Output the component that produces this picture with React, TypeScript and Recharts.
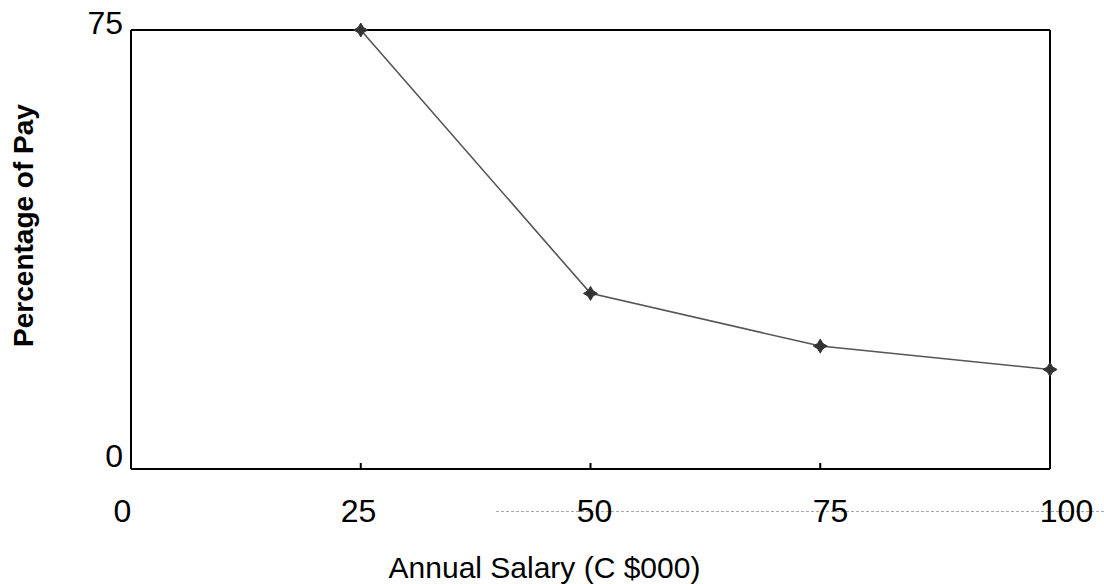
import React from "react";
import { LineChart, Line, XAxis, YAxis, ReferenceLine } from "recharts";

// values
const salary = [25, 50, 75, 100];
const payPct = [75, 30, 21, 17];
const xTicks = [0, 25, 50, 75, 100];
const yTicks = [0, 75];

const data = salary.map((s, i) => ({ salary: s, pct: payPct[i] }));

const FONT = "'Liberation Sans', Arial, sans-serif";

// x labels in the scan are spaced a bit wider than the plot ticks
function XTick(props: any) {
  const { x, y, payload } = props;
  const v = payload.value;
  const inner = v > 0 && v < 100;
  const lx = 122.5 + (x - 131) * (236 / 229.75);
  return (
    <g>
      {inner && <line x1={x} x2={x} y1={y} y2={y - 6} stroke="#000" strokeWidth={2} />}
      <text x={lx} y={y + 53} textAnchor="middle" fontFamily={FONT} fontSize={32} fill="#000">
        {v}
      </text>
    </g>
  );
}

function YTick(props: any) {
  const { x, y, payload } = props;
  const v = payload.value;
  return (
    <text x={x - 8} y={y + (v === 0 ? -2 : 4)} textAnchor="end" fontFamily={FONT} fontSize={32} fill="#000">
      {v}
    </text>
  );
}

function XTitle(props: any) {
  const vb = props.viewBox || { x: 131, y: 469, width: 919, height: 115 };
  return (
    <text x={vb.x + vb.width / 2 - 46} y={vb.y + vb.height - 6} textAnchor="middle"
      fontFamily={FONT} fontSize={30} fill="#000">
      Annual Salary (C $000)
    </text>
  );
}

function YTitle(props: any) {
  const vb = props.viewBox || { x: 0, y: 30, width: 131, height: 439 };
  const cx = 23;
  const cy = vb.y + vb.height / 2 - 24;
  return (
    <text x={cx} y={cy} transform={`rotate(-90 ${cx} ${cy})`} textAnchor="middle" dominantBaseline="central"
      fontFamily={FONT} fontWeight="bold" fontSize={28} fill="#000">
      Percentage of Pay
    </text>
  );
}

function StarDot(props: any) {
  const { cx, cy } = props;
  if (cx == null || cy == null) return null;
  const r = 7, w = 2.6;
  const d = `M${cx},${cy - r} L${cx + w},${cy - w} L${cx + r},${cy} L${cx + w},${cy + w} L${cx},${cy + r} L${cx - w},${cy + w} L${cx - r},${cy} L${cx - w},${cy - w} Z`;
  return <path d={d} fill="#333" stroke="#333" strokeWidth={1} />;
}

export default function App() {
  return (
    <div style={{ position: "absolute", left: 0, top: 0, width: 1104, height: 584, background: "#fff" }}>
      {/* faint scan artefact line behind the x labels */}
      <div style={{ position: "absolute", left: 496, top: 511, width: 608, height: 0, borderTop: "1px dashed #a8a8a8" }} />
      <div style={{ position: "absolute", left: 0, top: 0 }}>
        <LineChart width={1104} height={584} data={data} margin={{ top: 30, right: 54, bottom: 0, left: 0 }}>
          <XAxis
            dataKey="salary"
            type="number"
            domain={[0, 100]}
            ticks={xTicks}
            height={115}
            axisLine={{ stroke: "#000", strokeWidth: 2 }}
            tickLine={false}
            tickSize={0}
            tickMargin={0}
            tick={<XTick />}
            interval={0}
            label={<XTitle />}
          />
          <YAxis
            type="number"
            domain={[0, 75]}
            ticks={yTicks}
            width={131}
            axisLine={{ stroke: "#000", strokeWidth: 2 }}
            tickLine={false}
            tickSize={0}
            tickMargin={0}
            tick={<YTick />}
            interval={0}
            label={<YTitle />}
          />
          <ReferenceLine y={75} stroke="#000" strokeWidth={2} />
          <ReferenceLine x={100} stroke="#000" strokeWidth={2} />
          <Line
            type="linear"
            dataKey="pct"
            stroke="#555"
            strokeWidth={1.6}
            dot={<StarDot />}
            activeDot={false}
            isAnimationActive={false}
          />
        </LineChart>
      </div>
    </div>
  );
}
